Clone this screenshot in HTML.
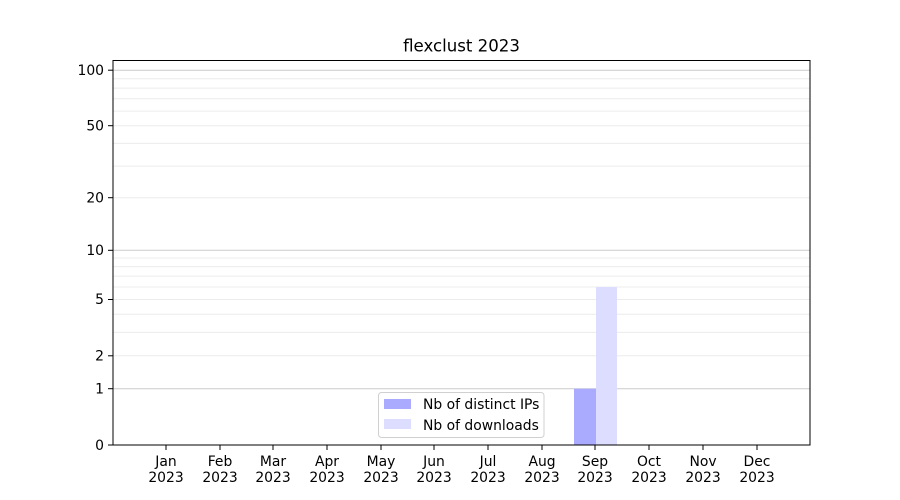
<!DOCTYPE html>
<html><head><meta charset="utf-8"><style>body{margin:0;background:#fff}svg{display:block}text{font-family:"DejaVu Sans","Liberation Sans",sans-serif;font-size:13.9px;fill:#000}</style></head>
<body>
<svg width="900" height="500" xmlns="http://www.w3.org/2000/svg">
<rect width="900" height="500" fill="#fff"/>
<g stroke="#ececec" stroke-width="1">
<line x1="113" x2="810" y1="355.8" y2="355.8"/><line x1="113" x2="810" y1="332.4" y2="332.4"/><line x1="113" x2="810" y1="314.3" y2="314.3"/><line x1="113" x2="810" y1="299.5" y2="299.5"/><line x1="113" x2="810" y1="287" y2="287"/><line x1="113" x2="810" y1="276.1" y2="276.1"/><line x1="113" x2="810" y1="266.6" y2="266.6"/><line x1="113" x2="810" y1="258" y2="258"/>
<line x1="113" x2="810" y1="197.7" y2="197.7"/><line x1="113" x2="810" y1="166.1" y2="166.1"/><line x1="113" x2="810" y1="143.4" y2="143.4"/><line x1="113" x2="810" y1="125.7" y2="125.7"/><line x1="113" x2="810" y1="111.1" y2="111.1"/><line x1="113" x2="810" y1="98.8" y2="98.8"/><line x1="113" x2="810" y1="88.1" y2="88.1"/><line x1="113" x2="810" y1="78.7" y2="78.7"/>
</g>
<g stroke="#cccccc" stroke-width="1">
<line x1="113" x2="810" y1="388.7" y2="388.7"/><line x1="113" x2="810" y1="250.3" y2="250.3"/><line x1="113" x2="810" y1="70.2" y2="70.2"/>
</g>
<rect x="574" y="388.7" width="22" height="56.3" fill="#aaaaff"/>
<rect x="596" y="287" width="21" height="158" fill="#ddddff"/>
<rect x="113" y="60.5" width="697" height="384.5" fill="none" stroke="#000" stroke-width="1"/>
<g stroke="#000">
<line x1="108" x2="113" y1="445" y2="445"/><line x1="108" x2="113" y1="388.7" y2="388.7"/><line x1="108" x2="113" y1="355.8" y2="355.8"/><line x1="108" x2="113" y1="299.5" y2="299.5"/><line x1="108" x2="113" y1="250.3" y2="250.3"/><line x1="108" x2="113" y1="197.7" y2="197.7"/><line x1="108" x2="113" y1="125.7" y2="125.7"/><line x1="108" x2="113" y1="70.2" y2="70.2"/>
</g>
<g text-anchor="end">
<text x="104" y="450">0</text><text x="104" y="393.5">1</text><text x="104" y="360.5">2</text><text x="104" y="304">5</text><text x="104" y="255">10</text><text x="104" y="202.5">20</text><text x="104" y="130.5">50</text><text x="104" y="75">100</text>
</g>
<g stroke="#000">
<line x1="166" x2="166" y1="445" y2="450"/><line x1="220" x2="220" y1="445" y2="450"/><line x1="273" x2="273" y1="445" y2="450"/><line x1="327" x2="327" y1="445" y2="450"/><line x1="381" x2="381" y1="445" y2="450"/><line x1="434" x2="434" y1="445" y2="450"/><line x1="488" x2="488" y1="445" y2="450"/><line x1="542" x2="542" y1="445" y2="450"/><line x1="595" x2="595" y1="445" y2="450"/><line x1="649" x2="649" y1="445" y2="450"/><line x1="703" x2="703" y1="445" y2="450"/><line x1="757" x2="757" y1="445" y2="450"/>
</g>
<g text-anchor="middle">
<text x="166" y="466">Jan</text><text x="166" y="482">2023</text>
<text x="220" y="466">Feb</text><text x="220" y="482">2023</text>
<text x="273" y="466">Mar</text><text x="273" y="482">2023</text>
<text x="327" y="466">Apr</text><text x="327" y="482">2023</text>
<text x="381" y="466">May</text><text x="381" y="482">2023</text>
<text x="434" y="466">Jun</text><text x="434" y="482">2023</text>
<text x="488" y="466">Jul</text><text x="488" y="482">2023</text>
<text x="542" y="466">Aug</text><text x="542" y="482">2023</text>
<text x="595" y="466">Sep</text><text x="595" y="482">2023</text>
<text x="649" y="466">Oct</text><text x="649" y="482">2023</text>
<text x="703" y="466">Nov</text><text x="703" y="482">2023</text>
<text x="757" y="466">Dec</text><text x="757" y="482">2023</text>
<text x="461.5" y="51.5" style="font-size:16.6px">flexclust 2023</text>
</g>
<rect x="378.5" y="392.5" width="165.5" height="45" rx="3" fill="#fff" fill-opacity="0.8" stroke="#d0d0d0"/>
<rect x="384" y="399" width="27" height="10" fill="#aaaaff"/>
<rect x="384" y="419" width="27" height="10" fill="#ddddff"/>
<text x="423" y="409">Nb of distinct IPs</text>
<text x="423" y="430">Nb of downloads</text>
</svg>
</body></html>
